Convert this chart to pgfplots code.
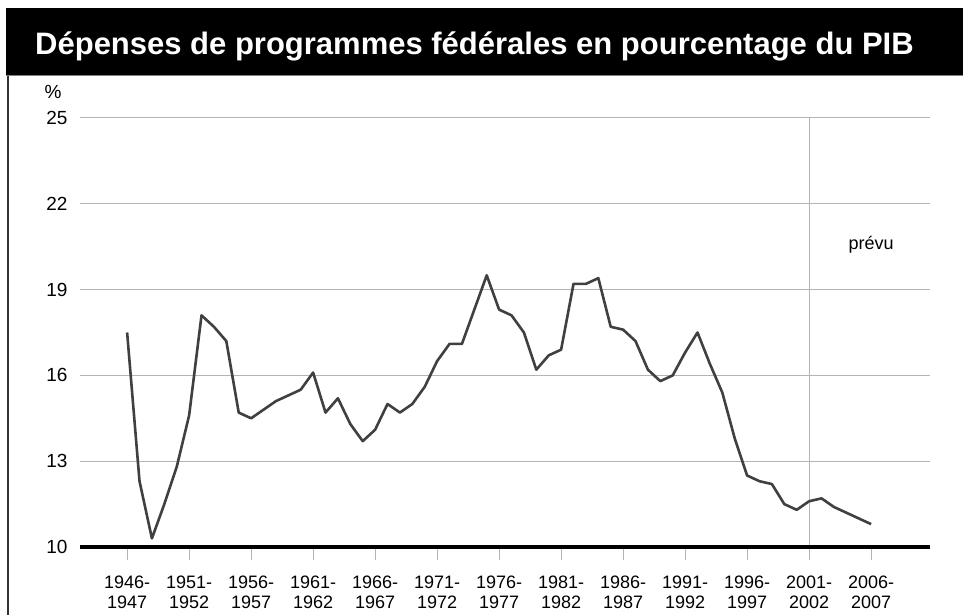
\documentclass[border=0pt]{standalone}
\usepackage{pgfplots}
\pgfplotsset{compat=1.18}
\usepackage{fontspec}
\setmainfont{Liberation Sans}
\definecolor{linegray}{HTML}{404040}
\definecolor{gridgray}{HTML}{B4B4B4}
\pgfplotstableread{
year val
1946 17.5
1947 12.3
1948 10.3
1949 11.5
1950 12.8
1951 14.6
1952 18.1
1953 17.7
1954 17.2
1955 14.7
1956 14.5
1957 14.8
1958 15.1
1959 15.3
1960 15.5
1961 16.1
1962 14.7
1963 15.2
1964 14.3
1965 13.7
1966 14.1
1967 15.0
1968 14.7
1969 15.0
1970 15.6
1971 16.5
1972 17.1
1973 17.1
1974 18.3
1975 19.5
1976 18.3
1977 18.1
1978 17.5
1979 16.2
1980 16.7
1981 16.9
1982 19.2
1983 19.2
1984 19.4
1985 17.7
1986 17.6
1987 17.2
1988 16.2
1989 15.8
1990 16.0
1991 16.8
1992 17.5
1993 16.4
1994 15.4
1995 13.8
1996 12.5
1997 12.3
1998 12.2
1999 11.5
2000 11.3
2001 11.6
2002 11.7
2003 11.4
2004 11.2
2005 11.0
2006 10.8
}\spending
\begin{document}
\begin{tikzpicture}[x=1pt,y=1pt]
\path[use as bounding box] (0,0) rectangle (963,615);
\fill[black] (6,539) rectangle (963,607);
\draw[gray, line width=1pt] (6,539) -- (963,539);
\draw[black!80, line width=1.5pt] (8,0) -- (8,539);
\node[anchor=base west, text=white, font=\bfseries\fontsize{31}{36}\selectfont, inner sep=0pt] at (35,560) {Dépenses de programmes fédérales en pourcentage du PIB};
\node[font=\fontsize{19}{20}\selectfont] at (53,523) {\%};
\begin{axis}[
  at={(80pt,68pt)}, anchor=south west,
  scale only axis, width=850pt, height=429pt,
  xmin=1942.2, xmax=2010.75, ymin=10, ymax=25,
  axis line style={draw=none},
  ytick={10,13,16,19,22,25},
  yticklabels={10,13,16,19,22,25},
  ymajorgrids,
  grid style={gridgray, line width=1pt},
  ytick style={draw=none},
  yticklabel style={font=\fontsize{19}{20}\selectfont, xshift=-9pt},
  xtick pos=bottom,
  major tick length=0pt,
  xtick style={draw=none},
  xtick={1946,1951,1956,1961,1966,1971,1976,1981,1986,1991,1996,2001,2006},
  xticklabels={{1946-\\1947},{1951-\\1952},{1956-\\1957},{1961-\\1962},{1966-\\1967},{1971-\\1972},{1976-\\1977},{1981-\\1982},{1986-\\1987},{1991-\\1992},{1996-\\1997},{2001-\\2002},{2006-\\2007}},
  xticklabel style={align=center, font=\fontsize{18}{20}\selectfont, yshift=-25pt},
  /pgf/number format/assume math mode=true,
  clip=false,
]
\draw[gridgray, line width=1pt] (axis cs:2001,10) -- (axis cs:2001,25);
\pgfplotsinvokeforeach{1946,1951,1956,1961,1966,1971,1976,1981,1986,1991,1996,2001,2006}{
  \draw[gridgray, line width=1pt] (axis cs:#1,10) -- (axis cs:#1,9.55);
}
\addplot[linegray, line width=2.6pt, line join=round, mark=none] table[x=year, y=val] {\spending};
\draw[black, line width=4pt] (axis cs:1942.2,10) -- (axis cs:2010.75,10);
\node[font=\fontsize{18}{20}\selectfont] at (axis cs:2006,20.56) {prévu};
\end{axis}
\end{tikzpicture}
\end{document}
